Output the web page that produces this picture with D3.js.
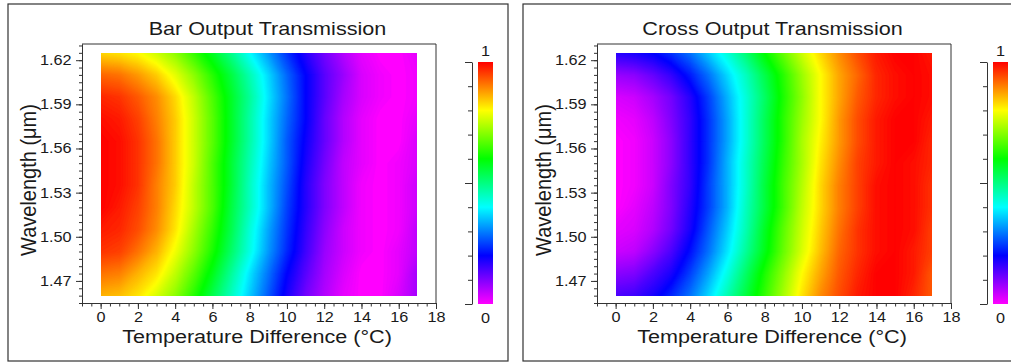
<!DOCTYPE html>
<html>
<head>
<meta charset="utf-8">
<script src="https://cdn.jsdelivr.net/npm/d3@7"></script>
<style>
  html, body { margin: 0; padding: 0; background: #ffffff; }
  svg { display: block; font-family: "Liberation Sans", Arial, sans-serif; }
</style>
</head>
<body>
<svg id="chart" width="1011" height="363"></svg>
<script>
// ---------------- data ----------------
const temperatures = [0, 1, 2, 3, 4, 5, 6, 7, 8, 9, 10, 11, 12, 13, 14, 15, 16, 17];
const wavelengths = [1.46, 1.475, 1.49, 1.505, 1.52, 1.535, 1.55, 1.565, 1.58, 1.595, 1.61, 1.625];

// rows follow wavelengths (bottom to top), columns follow temperatures
const barTransmission = [
  [0.86,0.85,0.82,0.77,0.71,0.63,0.54,0.45,0.36,0.27,0.18,0.11,0.06,0.02,0.00,0.00,0.03,0.07],
  [0.91,0.90,0.86,0.82,0.75,0.67,0.58,0.48,0.38,0.29,0.20,0.13,0.07,0.03,0.00,0.00,0.02,0.07],
  [0.96,0.95,0.91,0.86,0.79,0.71,0.62,0.52,0.42,0.32,0.23,0.15,0.08,0.04,0.01,0.00,0.02,0.05],
  [0.98,0.97,0.94,0.89,0.82,0.73,0.64,0.54,0.43,0.33,0.24,0.16,0.09,0.04,0.01,0.00,0.01,0.05],
  [1.00,0.98,0.95,0.90,0.83,0.75,0.66,0.55,0.45,0.35,0.25,0.17,0.10,0.05,0.01,0.00,0.01,0.04],
  [1.00,0.99,0.96,0.90,0.84,0.75,0.66,0.56,0.45,0.35,0.26,0.17,0.10,0.05,0.01,0.00,0.01,0.04],
  [1.00,0.99,0.96,0.91,0.84,0.76,0.66,0.56,0.46,0.36,0.27,0.18,0.11,0.05,0.02,0.00,0.01,0.03],
  [1.00,0.99,0.96,0.91,0.84,0.76,0.67,0.57,0.47,0.37,0.27,0.19,0.12,0.06,0.02,0.00,0.00,0.03],
  [0.99,0.98,0.95,0.90,0.84,0.76,0.67,0.57,0.47,0.37,0.28,0.20,0.12,0.06,0.02,0.00,0.00,0.02],
  [0.97,0.96,0.93,0.89,0.83,0.75,0.66,0.57,0.48,0.38,0.29,0.20,0.13,0.07,0.03,0.01,0.00,0.01],
  [0.92,0.91,0.88,0.84,0.78,0.71,0.63,0.55,0.46,0.37,0.28,0.20,0.13,0.08,0.03,0.01,0.00,0.01],
  [0.83,0.82,0.80,0.76,0.71,0.64,0.57,0.49,0.40,0.32,0.24,0.17,0.11,0.06,0.02,0.00,0.00,0.02]
];

const crossTransmission = [
  [0.14,0.15,0.18,0.23,0.29,0.37,0.46,0.55,0.64,0.73,0.82,0.89,0.94,0.98,1.00,1.00,0.97,0.93],
  [0.09,0.10,0.14,0.18,0.25,0.33,0.42,0.52,0.62,0.71,0.80,0.87,0.93,0.97,1.00,1.00,0.98,0.93],
  [0.04,0.05,0.09,0.14,0.21,0.29,0.38,0.48,0.58,0.68,0.77,0.85,0.92,0.96,0.99,1.00,0.98,0.95],
  [0.02,0.03,0.06,0.11,0.18,0.27,0.36,0.46,0.57,0.67,0.76,0.84,0.91,0.96,0.99,1.00,0.99,0.95],
  [0.00,0.02,0.05,0.10,0.17,0.25,0.34,0.45,0.55,0.65,0.75,0.83,0.90,0.95,0.99,1.00,0.99,0.96],
  [0.00,0.01,0.04,0.10,0.16,0.25,0.34,0.44,0.55,0.65,0.74,0.83,0.90,0.95,0.99,1.00,0.99,0.96],
  [0.00,0.01,0.04,0.09,0.16,0.24,0.34,0.44,0.54,0.64,0.73,0.82,0.89,0.95,0.98,1.00,0.99,0.97],
  [0.00,0.01,0.04,0.09,0.16,0.24,0.33,0.43,0.53,0.63,0.73,0.81,0.88,0.94,0.98,1.00,1.00,0.97],
  [0.01,0.02,0.05,0.10,0.16,0.24,0.33,0.43,0.53,0.63,0.72,0.80,0.88,0.94,0.98,1.00,1.00,0.98],
  [0.03,0.04,0.07,0.11,0.17,0.25,0.34,0.43,0.52,0.62,0.71,0.80,0.87,0.93,0.97,0.99,1.00,0.99],
  [0.08,0.09,0.12,0.16,0.22,0.29,0.37,0.45,0.54,0.63,0.72,0.80,0.87,0.92,0.97,0.99,1.00,0.99],
  [0.17,0.18,0.20,0.24,0.29,0.36,0.43,0.51,0.60,0.68,0.76,0.83,0.89,0.94,0.98,1.00,1.00,0.98]
];

const panelTitles = ["Bar Output Transmission", "Cross Output Transmission"];
const xAxisTitle = "Temperature Difference (°C)";
const yAxisTitle = "Wavelength (μm)";
const xTickLabels = [0, 2, 4, 6, 8, 10, 12, 14, 16, 18];
const yTickLabels = [1.47, 1.50, 1.53, 1.56, 1.59, 1.62];
const colorbarTicks = [0, 0.1, 0.2, 0.3, 0.4, 0.5, 0.6, 0.7, 0.8, 0.9, 1];
const colorbarMajorTicks = [0, 0.5, 1];
const colorbarLabels = ["0", "1"];
const colorStops = [0, 0.2, 0.4, 0.6, 0.8, 1];
const colorNames = ["#ff00ff", "#0000ff", "#00ffff", "#00ff00", "#ffff00", "#ff0000"];

// ---------------- drawing ----------------
const svg = d3.select("#chart");
svg.append("rect").attr("width", 1011).attr("height", 363).attr("fill", "#fff");

const color = d3.scaleLinear().domain(colorStops).range(colorNames).clamp(true);
const axisColor = "#333";
const textColor = "#1a1a1a";
const SX = 1.16; // horizontal stretch of the reference's lettering

const panels = [
  { values: barTransmission, title: panelTitles[0], dx: 0, titleCx: 267.5 },
  { values: crossTransmission, title: panelTitles[1], dx: 515, titleCx: 257.5 }
];

const defs = svg.append("defs");
const grad = defs.append("linearGradient").attr("id", "cbgrad")
  .attr("x1", 0).attr("y1", 1).attr("x2", 0).attr("y2", 0);
grad.selectAll("stop").data(colorStops).join("stop")
  .attr("offset", d => d).attr("stop-color", d => color(d));

function stretchedText(g, str, x, y, size, sx, anchor, rotate) {
  return g.append("text")
    .attr("transform", `translate(${x},${y}) scale(${sx},1)` + (rotate ? ` rotate(${rotate})` : ""))
    .attr("text-anchor", anchor)
    .attr("font-size", size)
    .attr("fill", textColor)
    .text(str);
}

panels.forEach((p, idx) => {
  const g = svg.append("g").attr("transform", `translate(${p.dx},0)`);

  // panel border
  g.append("rect").attr("x", 8).attr("y", 4).attr("width", 500).attr("height", 357)
    .attr("fill", "none").attr("stroke", "#333").attr("stroke-width", 1.2);

  const x = d3.scaleLinear().domain([-1, 18]).range([82, 436]);
  const y = d3.scaleLinear().domain([1.455, 1.631]).range([303, 44]);

  // heatmap via d3.contours of the sampled grid
  const n = temperatures.length, m = wavelengths.length;
  const flat = p.values.flat();
  const gx = d3.scaleLinear().domain([0.5, n - 0.5]).range([temperatures[0], temperatures[n - 1]]);
  const gy = d3.scaleLinear().domain([0.5, m - 0.5]).range([wavelengths[0], wavelengths[m - 1]]);
  const step = 0.004;
  const thresholds = d3.range(step, 1 + step / 2, step);
  const contours = d3.contours().size([n, m]).thresholds(thresholds)(flat);
  const proj = d3.geoTransform({
    point: function (px, py) { this.stream.point(x(gx(px)), y(gy(py))); }
  });
  const path = d3.geoPath(proj);

  const clipId = "heatclip" + idx;
  const hx0 = Math.round(x(temperatures[0])), hx1 = Math.round(x(temperatures[n - 1]));
  const hy0 = Math.round(y(wavelengths[m - 1])), hy1 = Math.round(y(wavelengths[0]));
  defs.append("clipPath").attr("id", clipId).append("rect")
    .attr("x", hx0).attr("y", hy0).attr("width", hx1 - hx0).attr("height", hy1 - hy0);

  const heat = g.append("g").attr("clip-path", `url(#${clipId})`);
  // base layer: colour of the lowest sampled value
  heat.append("rect").attr("x", hx0).attr("y", hy0).attr("width", hx1 - hx0).attr("height", hy1 - hy0)
    .attr("fill", color(d3.min(flat)));
  heat.selectAll("path").data(contours).join("path")
    .attr("d", path)
    .attr("fill", d => color(d.value + step / 2))
    .attr("stroke", d => color(d.value + step / 2))
    .attr("stroke-width", 0.3);

  // frame (top and right)
  g.append("path")
    .attr("d", `M${x(-1)},${y(1.631)}H${x(18)}V${y(1.455)}`)
    .attr("fill", "none").attr("stroke", axisColor).attr("stroke-width", 1);

  // x axis: minor then major
  const xMinor = d3.range(-1, 18.01, 0.5);
  g.append("g").attr("transform", `translate(0,${y(1.455)})`)
    .call(d3.axisBottom(x).tickValues(xMinor).tickSize(3.5).tickSizeOuter(0).tickFormat(""))
    .call(a => a.selectAll("line,path").attr("stroke", axisColor));
  g.append("g").attr("transform", `translate(0,${y(1.455)})`)
    .call(d3.axisBottom(x).tickValues(xTickLabels).tickSize(6).tickPadding(3).tickSizeOuter(0).tickFormat(d3.format("d")))
    .call(a => a.selectAll("line,path").attr("stroke", axisColor))
    .call(a => a.selectAll("text").attr("font-size", 14).attr("fill", textColor)
      .attr("font-family", '"Liberation Sans", Arial, sans-serif')
      .attr("transform", `scale(${SX},1)`));

  // y axis: minor then major
  const yMinor = d3.range(1.455, 1.6305, 0.005);
  g.append("g").attr("transform", `translate(${x(-1)},0)`)
    .call(d3.axisLeft(y).tickValues(yMinor).tickSize(3).tickSizeOuter(0).tickFormat(""))
    .call(a => a.selectAll("line,path").attr("stroke", axisColor));
  g.append("g").attr("transform", `translate(${x(-1)},0)`)
    .call(d3.axisLeft(y).tickValues(yTickLabels).tickSize(6).tickPadding(3).tickSizeOuter(0).tickFormat(d3.format(".2f")))
    .call(a => a.selectAll("line,path").attr("stroke", axisColor))
    .call(a => a.selectAll("text").attr("font-size", 14).attr("fill", textColor)
      .attr("font-family", '"Liberation Sans", Arial, sans-serif')
      .attr("transform", `scale(${SX},1)`));

  // titles
  stretchedText(g, p.title, p.titleCx, 35, 18, 1.2, "middle");
  stretchedText(g, xAxisTitle, 257, 343, 18.5, 1.167, "middle");
  stretchedText(g, yAxisTitle, 36, 180, 20, 1.1, "middle", -90);

  // colorbar
  const cb = d3.scaleLinear().domain([0, 1]).range([304, 62]);
  g.append("rect").attr("x", 478).attr("y", cb(1)).attr("width", 15)
    .attr("height", cb(0) - cb(1)).attr("fill", "url(#cbgrad)");
  g.append("g").attr("transform", "translate(472,0)")
    .call(d3.axisLeft(cb).tickValues(colorbarTicks).tickSize(4).tickSizeOuter(0).tickFormat(""))
    .call(a => a.selectAll("line,path").attr("stroke", axisColor));
  g.append("g").attr("transform", "translate(472,0)")
    .call(d3.axisLeft(cb).tickValues(colorbarMajorTicks).tickSize(7).tickSizeOuter(0).tickFormat(""))
    .call(a => a.selectAll("line,path").attr("stroke", axisColor))
    .call(a => a.select(".domain").remove());
  stretchedText(g, colorbarLabels[1], 485.5, cb(1) - 6, 14, SX, "middle");
  stretchedText(g, colorbarLabels[0], 485.5, cb(0) + 19, 14, SX, "middle");
});
</script>
</body>
</html>
